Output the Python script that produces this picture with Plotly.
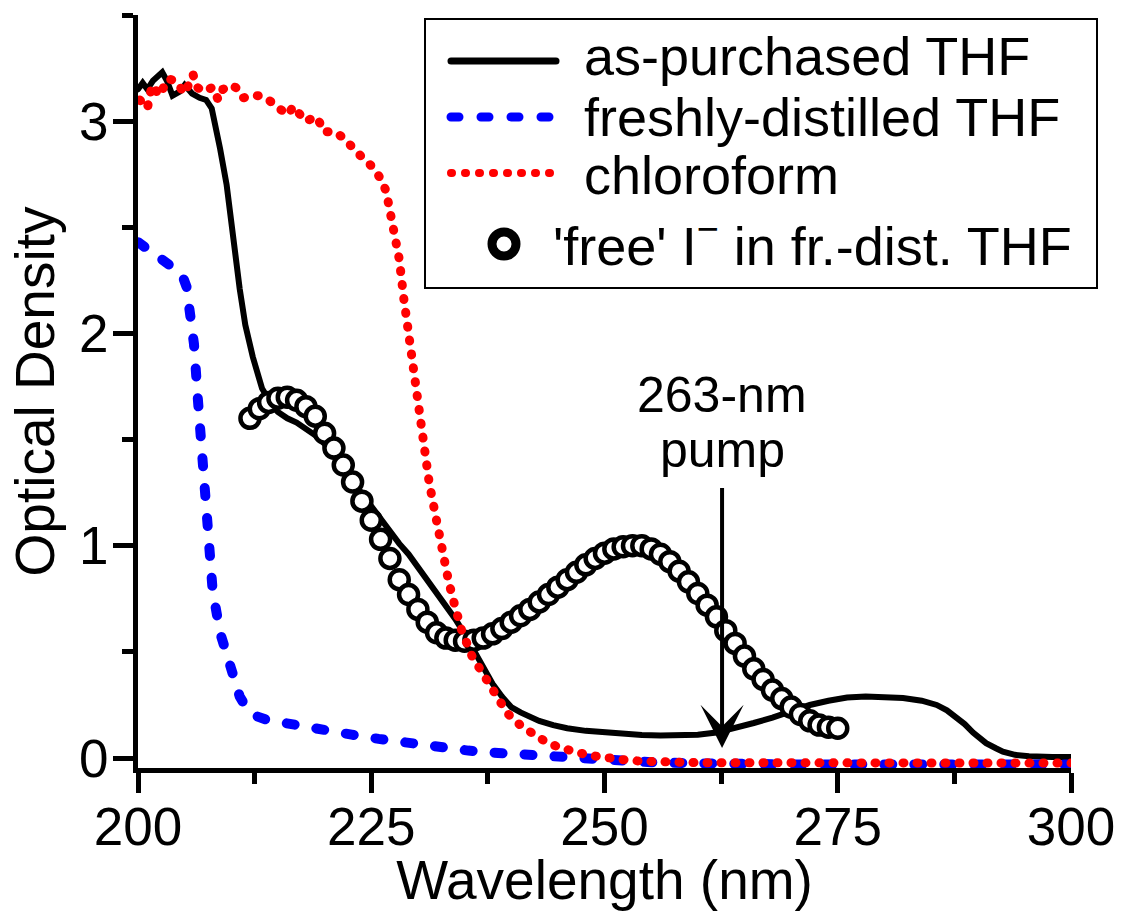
import plotly.graph_objects as go

# ---------------- data ----------------
purchased_nm = [200, 200.5, 201, 201.6, 202.6, 203.1, 203.7, 204.5, 205, 205.8, 206.6, 207.3, 207.9,
                208.4, 208.8, 209.5, 210.1, 210.9, 211.5, 212.3, 213.3, 214.4, 215, 216, 217, 218, 219,
                220, 221, 222, 223, 224, 225, 226, 227, 228, 229, 230, 231, 232, 233, 234, 235, 236,
                237, 238, 239, 240, 241, 242, 243, 244.5, 246, 248, 250, 252, 254, 256, 258, 260, 262,
                264, 266, 268, 270, 272, 274, 276, 278, 280, 282, 284, 285.6, 286.7, 287.7, 288.6,
                289.5, 290.9, 292, 292.7, 294, 295.5, 298, 300]
purchased_od = [3.15, 3.18, 3.15, 3.19, 3.23, 3.19, 3.12, 3.14, 3.17, 3.13, 3.11, 3.10, 3.06,
                2.97, 2.87, 2.70, 2.48, 2.21, 2.04, 1.89, 1.74, 1.66, 1.63, 1.60, 1.58, 1.55, 1.52,
                1.48, 1.42, 1.37, 1.31, 1.25, 1.19, 1.13, 1.07, 1.01, 0.96, 0.90, 0.84, 0.78, 0.72,
                0.655, 0.585, 0.51, 0.43, 0.35, 0.29, 0.24, 0.215, 0.195, 0.175, 0.155, 0.14, 0.128,
                0.12, 0.113, 0.108, 0.106, 0.107, 0.11, 0.12, 0.14, 0.165, 0.19, 0.22, 0.25, 0.27,
                0.285, 0.29, 0.29, 0.283, 0.27, 0.25, 0.225, 0.195, 0.16, 0.12, 0.07, 0.045, 0.03,
                0.015, 0.008, 0.005, 0.005]

distilled_nm = [200, 201, 202, 203, 204, 204.7, 205.2, 205.6, 206.0, 206.4, 206.8, 207.1, 207.5, 208,
                208.8, 209.8, 210.9, 211.7, 212.5, 213.8, 216.6, 219.8, 222.9, 225.8, 229, 232.2,
                235.4, 238.6, 242, 245, 248, 251.5, 255, 260, 270, 300]
distilled_od = [2.43, 2.40, 2.37, 2.34, 2.31, 2.28, 2.22, 2.10, 1.95, 1.70, 1.45, 1.22, 0.98, 0.79,
                0.59, 0.43, 0.29, 0.23, 0.20, 0.18, 0.155, 0.13, 0.11, 0.09, 0.07, 0.052,
                0.035, 0.024, 0.014, 0.005, 0.0, -0.01, -0.02, -0.025, -0.03, -0.03]

chloroform_nm = [200.2, 201, 201.5, 202.3, 203.2, 204, 205, 205.9, 206.3, 207.1, 208, 208.6, 209.1,
                 210, 210.8, 211.3, 212.3, 213, 214, 215, 216, 216.7, 217.9, 219.2, 219.9, 221,
                 222.1, 223.3, 224.1, 225, 226, 226.6, 226.9, 227.2, 227.5, 228, 228.5, 229, 229.3,
                 230.1, 230.6, 231.2, 231.9, 232.6, 233.3, 234, 234.7, 235.8, 236.9, 237.7, 238.6,
                 239.6, 241.1, 242.5, 243.9, 245.4, 246.8, 248.2, 249.7, 251, 252.4, 254, 257, 260, 300]
chloroform_od = [3.10, 3.06, 3.17, 3.12, 3.20, 3.19, 3.13, 3.22, 3.16, 3.14, 3.16, 3.10, 3.15,
                 3.17, 3.15, 3.11, 3.12, 3.12, 3.10, 3.07, 3.03, 3.07, 3.00, 3.02, 2.95, 2.95,
                 2.92, 2.86, 2.83, 2.79, 2.73, 2.67, 2.60, 2.54, 2.46, 2.35, 2.16, 2.00, 1.88,
                 1.66, 1.47, 1.30, 1.14, 0.97, 0.83, 0.71, 0.60, 0.48, 0.40, 0.34, 0.28,
                 0.21, 0.15, 0.11, 0.071, 0.047, 0.028, 0.014, 0.005, -0.005, -0.01, -0.015, -0.02,
                 -0.022, -0.024]

iodide_nm = list(range(212, 276))
iodide_od = [1.60, 1.645, 1.675, 1.695, 1.70, 1.685, 1.655, 1.61, 1.53, 1.46, 1.38, 1.30, 1.21,
             1.12, 1.03, 0.94, 0.84, 0.77, 0.70, 0.64, 0.59, 0.565, 0.555, 0.55, 0.555, 0.565,
             0.585, 0.61, 0.64, 0.67, 0.70, 0.735, 0.77, 0.805, 0.84, 0.875, 0.91, 0.94, 0.965,
             0.985, 0.995, 1.00, 1.00, 0.985, 0.96, 0.925, 0.88, 0.83, 0.775, 0.72, 0.665, 0.60,
             0.54, 0.48, 0.42, 0.37, 0.32, 0.28, 0.24, 0.205, 0.175, 0.155, 0.145, 0.14]

x_ticks = [200, 225, 250, 275, 300]
y_ticks = [0, 1, 2, 3]
legend_labels = ["as-purchased THF", "freshly-distilled THF", "chloroform",
                 "'free' I<sup>\u2212</sup> in fr.-dist. THF"]
pump_nm = 262.6
pump_tip_od = 0.047
pump_labels = ["263-nm", "pump"]

FONT = "Liberation Sans, Arial, sans-serif"
BLACK, BLUE, RED = "black", "#0000ff", "#ff0000"
BLUE_DASH, RED_DOT = "8px,22px", "1px,13px"

# plot area in pixels (used only to place the hand-drawn legend in paper units)
PL, PR, PT, PB = 138, 1071, 15, 768


def px(x):
    return (x - PL) / (PR - PL)


def py(y):
    return (PB - y) / (PB - PT)


fig = go.Figure()
fig.add_trace(go.Scatter(x=purchased_nm, y=purchased_od, mode="lines", name=legend_labels[0],
                         line=dict(color=BLACK, width=6)))
fig.add_trace(go.Scatter(x=distilled_nm, y=distilled_od, mode="lines", name=legend_labels[1],
                         line=dict(color=BLUE, width=10, dash=BLUE_DASH)))
fig.add_trace(go.Scatter(x=iodide_nm, y=iodide_od, mode="markers", name=legend_labels[3],
                         marker=dict(symbol="circle", size=19, color="white",
                                     line=dict(color=BLACK, width=4.5))))
fig.add_trace(go.Scatter(x=chloroform_nm, y=chloroform_od, mode="lines", name=legend_labels[2],
                         line=dict(color=RED, width=9, dash=RED_DOT)))

# pump annotation
fig.add_annotation(x=pump_nm, y=1.71, text=pump_labels[0], showarrow=False,
                   font=dict(size=50, color=BLACK, family=FONT))
fig.add_annotation(x=pump_nm, y=pump_tip_od, ax=pump_nm, ay=1.453, axref="x", ayref="y",
                   text=pump_labels[1], showarrow=True, arrowhead=3, arrowwidth=4, arrowsize=1.8,
                   arrowcolor=BLACK, startstandoff=9,
                   font=dict(size=50, color=BLACK, family=FONT))

# legend (drawn by hand so that the row spacing and sample lengths match)
fig.add_shape(type="rect", xref="paper", yref="paper", x0=px(425), x1=px(1097), y0=py(288), y1=py(19),
              line=dict(color=BLACK, width=2), fillcolor="white", layer="above")
samples = [(61, BLACK, 7, "solid"), (117, BLUE, 9, BLUE_DASH), (173, RED, 8, RED_DOT)]
for yy, col, w, dash in samples:
    fig.add_shape(type="line", xref="paper", yref="paper", x0=px(451), x1=px(556), y0=py(yy), y1=py(yy),
                  line=dict(color=col, width=w, dash=dash), layer="above")
fig.add_shape(type="circle", xref="paper", yref="paper", x0=px(492), x1=px(516), y0=py(256), y1=py(232),
              line=dict(color=BLACK, width=9), fillcolor="white", layer="above")
text_pos = [(582, 56), (582, 117), (582, 175), (551, 242)]
for (xx, yy), lab in zip(text_pos, legend_labels):
    fig.add_annotation(xref="paper", yref="paper", x=px(xx), y=py(yy), xanchor="left", yanchor="middle",
                       text=lab, showarrow=False, font=dict(size=54, color=BLACK, family=FONT))

axis_common = dict(ticks="outside", ticklen=20, tickwidth=5, tickcolor=BLACK, showline=True,
                   linewidth=5, linecolor=BLACK, showgrid=False, zeroline=False, automargin=False,
                   tickfont=dict(size=53, color=BLACK, family=FONT))
fig.update_xaxes(range=[200, 300], tickvals=x_ticks, ticklabelstandoff=-12,
                 minor=dict(dtick=12.5, tick0=200, ticks="outside", ticklen=11, tickwidth=5,
                            tickcolor=BLACK, showgrid=False),
                 title=dict(text="Wavelength (nm)", font=dict(size=55, color=BLACK, family=FONT),
                            standoff=14), **axis_common)
fig.update_yaxes(range=[-0.047, 3.5], tickvals=y_ticks, ticklabelstandoff=-6,
                 minor=dict(dtick=0.5, tick0=0, ticks="outside", ticklen=11, tickwidth=5,
                            tickcolor=BLACK, showgrid=False),
                 title=dict(text="Optical Density", font=dict(size=55, color=BLACK, family=FONT),
                            standoff=8), **axis_common)

fig.update_layout(
    width=1121, height=911,
    margin=dict(l=PL, r=1121 - PR, t=PT, b=911 - PB, autoexpand=False),
    plot_bgcolor="white", paper_bgcolor="white",
    font=dict(family=FONT, color=BLACK),
    showlegend=False,
)

post = """
var s = document.createElement('style');
s.innerHTML = 'path.js-line, .shapelayer path { stroke-linecap: round !important; }';
document.head.appendChild(s);
"""
fig.write_html("out.html", post_script=post)
